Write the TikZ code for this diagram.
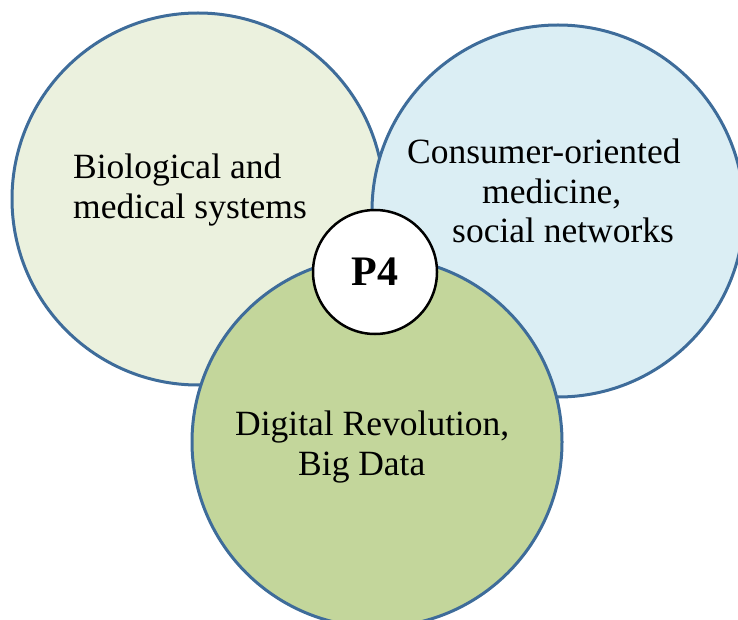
\documentclass[tikz,border=0pt]{standalone}
\usepackage{fontspec}
\setmainfont{Liberation Serif}
\usepackage{xcolor}
\usetikzlibrary{positioning}

\definecolor{ringblue}{RGB}{62,108,154}
\definecolor{bioFill}{RGB}{235,241,222}
\definecolor{consFill}{RGB}{219,238,244}
\definecolor{digiFill}{RGB}{195,214,155}

\tikzset{
    area/.style={circle, draw=ringblue, line width=3pt, minimum size=372pt, inner sep=0pt},
    areatext/.style={anchor=north west, inner sep=0pt, align=left, font=\fontsize{35.5}{39.5}\selectfont},
    hub/.style={circle, draw=black, line width=2.5pt, fill=white, minimum size=124pt, inner sep=0pt, font=\fontsize{42}{48}\selectfont\bfseries}
}

\begin{document}
\begin{tikzpicture}[x=1pt, y=-1pt]

    \useasboundingbox (0,0) rectangle (738,620);
    \clip (0,0) rectangle (738,620);

    % ---------------------------------------------------
    % The three areas
    % ---------------------------------------------------
    \node[area, fill=bioFill] (bio) at (198,199) {};
    \node[area, fill=consFill] (cons) at (558,211) {};
    \node[area, fill=digiFill, minimum size=370pt] (digi) at (377,442) {};

    % ---------------------------------------------------
    % Area labels
    % ---------------------------------------------------
    \node[areatext] (biotext) at (73,154) {Biological and\\medical systems};
    \node[areatext] (constext) at (407,139)
        {Consumer-oriented\\\hspace*{75pt}medicine,\\\hspace*{45pt}social networks};
    \node[areatext] (digitext) at (235,411)
        {Digital Revolution,\\\hspace*{63pt}Big Data};

    % ---------------------------------------------------
    % Centre
    % ---------------------------------------------------
    \node[hub] (p4) at (375,272) {P4};

\end{tikzpicture}
\end{document}
